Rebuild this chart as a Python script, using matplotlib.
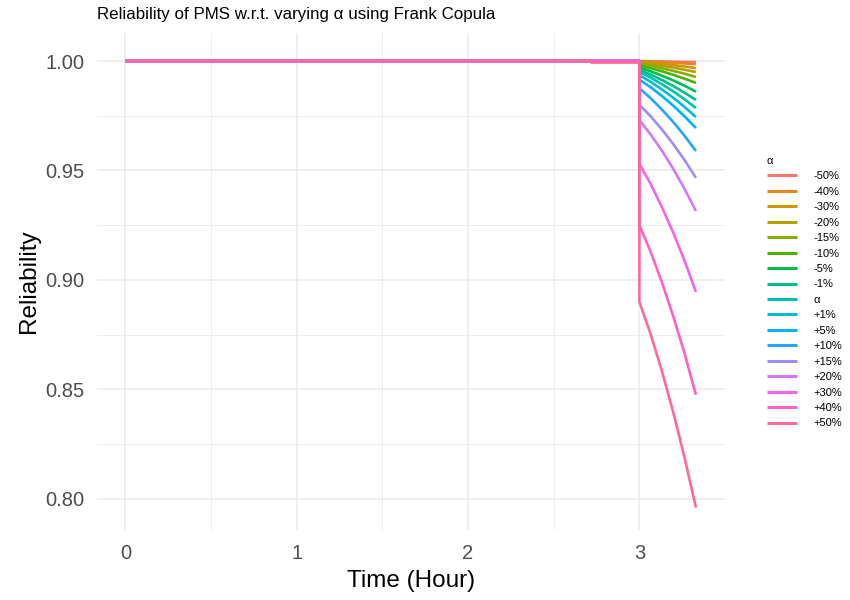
import numpy as np
import matplotlib
matplotlib.use('Agg')
import matplotlib.pyplot as plt

plt.rcParams['font.family'] = ['Liberation Sans', 'DejaVu Sans']

# legend levels in ggplot order
levels = ['-50%', '-40%', '-30%', '-20%', '-15%', '-10%', '-5%', '-1%', 'α',
          '+1%', '+5%', '+10%', '+15%', '+20%', '+30%', '+40%', '+50%']

# time points after the failure at t = 3 (hours)
t_after = [3.0, 3.066, 3.132, 3.198, 3.264, 3.33]

# reliability for each level at t_after
rel_after = {
    '-50%': [1.0000, 0.9999, 0.9998, 0.9997, 0.9996, 0.9995],
    '-40%': [0.9999, 0.9997, 0.9995, 0.9992, 0.9989, 0.9986],
    '-30%': [0.9997, 0.9992, 0.9987, 0.9981, 0.9975, 0.9968],
    '-20%': [0.9993, 0.9986, 0.9978, 0.9970, 0.9960, 0.9950],
    '-15%': [0.9988, 0.9978, 0.9967, 0.9955, 0.9942, 0.9927],
    '-10%': [0.9980, 0.9967, 0.9953, 0.9937, 0.9919, 0.9900],
    '-5%':  [0.9970, 0.9953, 0.9933, 0.9911, 0.9887, 0.9860],
    '-1%':  [0.9960, 0.9938, 0.9913, 0.9886, 0.9855, 0.9822],
    'α':    [0.9950, 0.9924, 0.9894, 0.9861, 0.9825, 0.9785],
    '+1%':  [0.9935, 0.9905, 0.9870, 0.9832, 0.9790, 0.9744],
    '+5%':  [0.9915, 0.9880, 0.9840, 0.9796, 0.9747, 0.9694],
    '+10%': [0.9875, 0.9830, 0.9778, 0.9721, 0.9658, 0.9589],
    '+15%': [0.9800, 0.9747, 0.9687, 0.9620, 0.9547, 0.9466],
    '+20%': [0.9730, 0.9664, 0.9590, 0.9507, 0.9415, 0.9315],
    '+30%': [0.9530, 0.9438, 0.9332, 0.9215, 0.9087, 0.8945],
    '+40%': [0.9250, 0.9128, 0.8988, 0.8833, 0.8663, 0.8475],
    '+50%': [0.8900, 0.8751, 0.8582, 0.8394, 0.8187, 0.7960],
}

# before t = 3 everything sits at 1, except a tiny dip of the +50% curve from 2.72
t_before = [0.0, 2.72, 2.72, 3.0]
rel_before = {lv: [1.0, 1.0, 1.0, 1.0] for lv in levels}
rel_before['+50%'] = [1.0, 1.0, 0.9993, 0.9993]


def hue_colour(h, c=100, l=65):
    # polar Luv -> sRGB, same as R's hcl()
    hr = np.radians(h)
    u = c * np.cos(hr)
    v = c * np.sin(hr)
    xn, yn, zn = 95.047, 100.0, 108.883
    un = 4 * xn / (xn + 15 * yn + 3 * zn)
    vn = 9 * yn / (xn + 15 * yn + 3 * zn)
    y = yn * ((l + 16) / 116) ** 3
    up = u / (13 * l) + un
    vp = v / (13 * l) + vn
    x = 9 * y * up / (4 * vp)
    z = -x / 3 - 5 * y + 3 * y / vp
    m = np.array([[3.240479, -1.537150, -0.498535],
                  [-0.969256, 1.875992, 0.041556],
                  [0.055648, -0.204043, 1.057311]])
    rgb = m @ (np.array([x, y, z]) / 100)
    rgb = np.where(rgb > 0.0031308, 1.055 * np.abs(rgb) ** (1 / 2.4) - 0.055, 12.92 * rgb)
    return tuple(np.clip(rgb, 0, 1))


n = len(levels)
hues = np.linspace(15, 375, n + 1)[:n]
colours = [hue_colour(h) for h in hues]

fig = plt.figure(figsize=(8.5, 6), dpi=100)
ax = fig.add_axes([0.114, 0.117, 0.739, 0.828])

for lv, col in zip(levels, colours):
    t = t_before + t_after
    r = rel_before[lv] + rel_after[lv]
    ax.plot(t, r, color=col, lw=1.9, label=lv, solid_capstyle='butt')

ax.set_xlim(-0.166, 3.496)
ax.set_ylim(0.7858, 1.0128)
ax.set_xticks([0, 1, 2, 3])
ax.set_xticks([0.5, 1.5, 2.5, 3.5], minor=True)
ax.set_yticks([0.80, 0.85, 0.90, 0.95, 1.00])
ax.set_yticks([0.825, 0.875, 0.925, 0.975], minor=True)
ax.yaxis.set_major_formatter(matplotlib.ticker.FormatStrFormatter('%.2f'))
ax.grid(which='major', color='#EBEBEB', lw=1.1)
ax.grid(which='minor', color='#EBEBEB', lw=0.6)
ax.set_axisbelow(True)
for s in ax.spines.values():
    s.set_visible(False)
ax.tick_params(which='both', length=0, labelsize=14.5, labelcolor='#4D4D4D', pad=9)
ax.tick_params(axis='x', pad=10.5)

ax.set_xlabel('Time (Hour)', fontsize=17.5, labelpad=5)
ax.set_ylabel('Reliability', fontsize=17.5, labelpad=4)
fig.text(0.114, 0.975, 'Reliability of PMS w.r.t. varying α using Frank Copula',
         fontsize=12.2, ha='left', va='center')

leg = ax.legend(loc='center left', bbox_to_anchor=(0.89, 0.513), bbox_transform=fig.transFigure,
                frameon=False, title='α', fontsize=8, title_fontsize=8,
                handlelength=2.7, handletextpad=1.5, labelspacing=0.49, alignment='left')
for line in leg.get_lines():
    line.set_linewidth(2.2)

fig.savefig('out.png', dpi=100)
